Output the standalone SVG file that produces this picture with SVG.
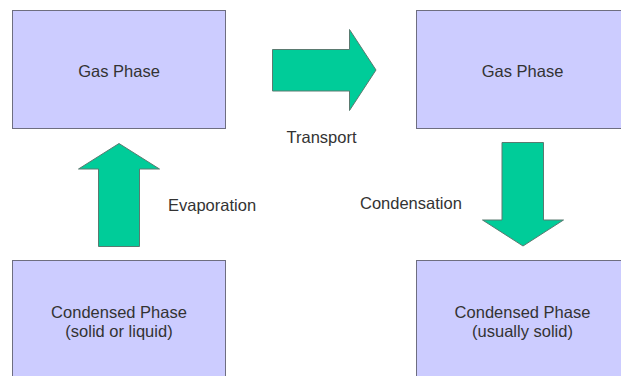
<svg xmlns="http://www.w3.org/2000/svg" width="621" height="376" viewBox="0 0 621 376">
<style>
.box{fill:#ccccff;stroke:#6e6e80;stroke-width:1}
.arr{fill:#00cc99;stroke:#5a7a70;stroke-width:1}
text{font-family:"Liberation Sans",Arial,sans-serif;font-size:16.5px;fill:#333}
.c{text-anchor:middle}
</style>
<rect width="621" height="376" fill="#fff"/>
<g id="gas1">
<rect class="box" x="12.5" y="10.5" width="213" height="118"/>
<text class="c" x="119" y="77">Gas Phase</text>
</g>
<g id="gas2">
<rect class="box" x="416.5" y="10.5" width="213" height="118"/>
<text class="c" x="522.5" y="77">Gas Phase</text>
</g>
<g id="cond1">
<rect class="box" x="12.5" y="260.5" width="213" height="118"/>
<text class="c" x="119" y="318">Condensed Phase</text>
<text class="c" x="119" y="337">(solid or liquid)</text>
</g>
<g id="cond2">
<rect class="box" x="416.5" y="260.5" width="213" height="118"/>
<text class="c" x="522.5" y="318">Condensed Phase</text>
<text class="c" x="522.5" y="337">(usually solid)</text>
</g>
<g id="connectors">
<polygon class="arr" points="272.5,49.5 349.5,49.5 349.5,29.5 376,70 349.5,110.5 349.5,91 272.5,91"/>
<text x="286.5" y="142.5">Transport</text>
<polygon class="arr" points="119,143.5 159.5,169 139.5,169 139.5,246.5 98.5,246.5 98.5,169 78.5,169"/>
<text x="168" y="210.5">Evaporation</text>
<polygon class="arr" points="502,142.5 543.5,142.5 543.5,220 563.5,220 523,246 482.5,220 502,220"/>
<text x="360" y="208.5">Condensation</text>
</g>
</svg>
